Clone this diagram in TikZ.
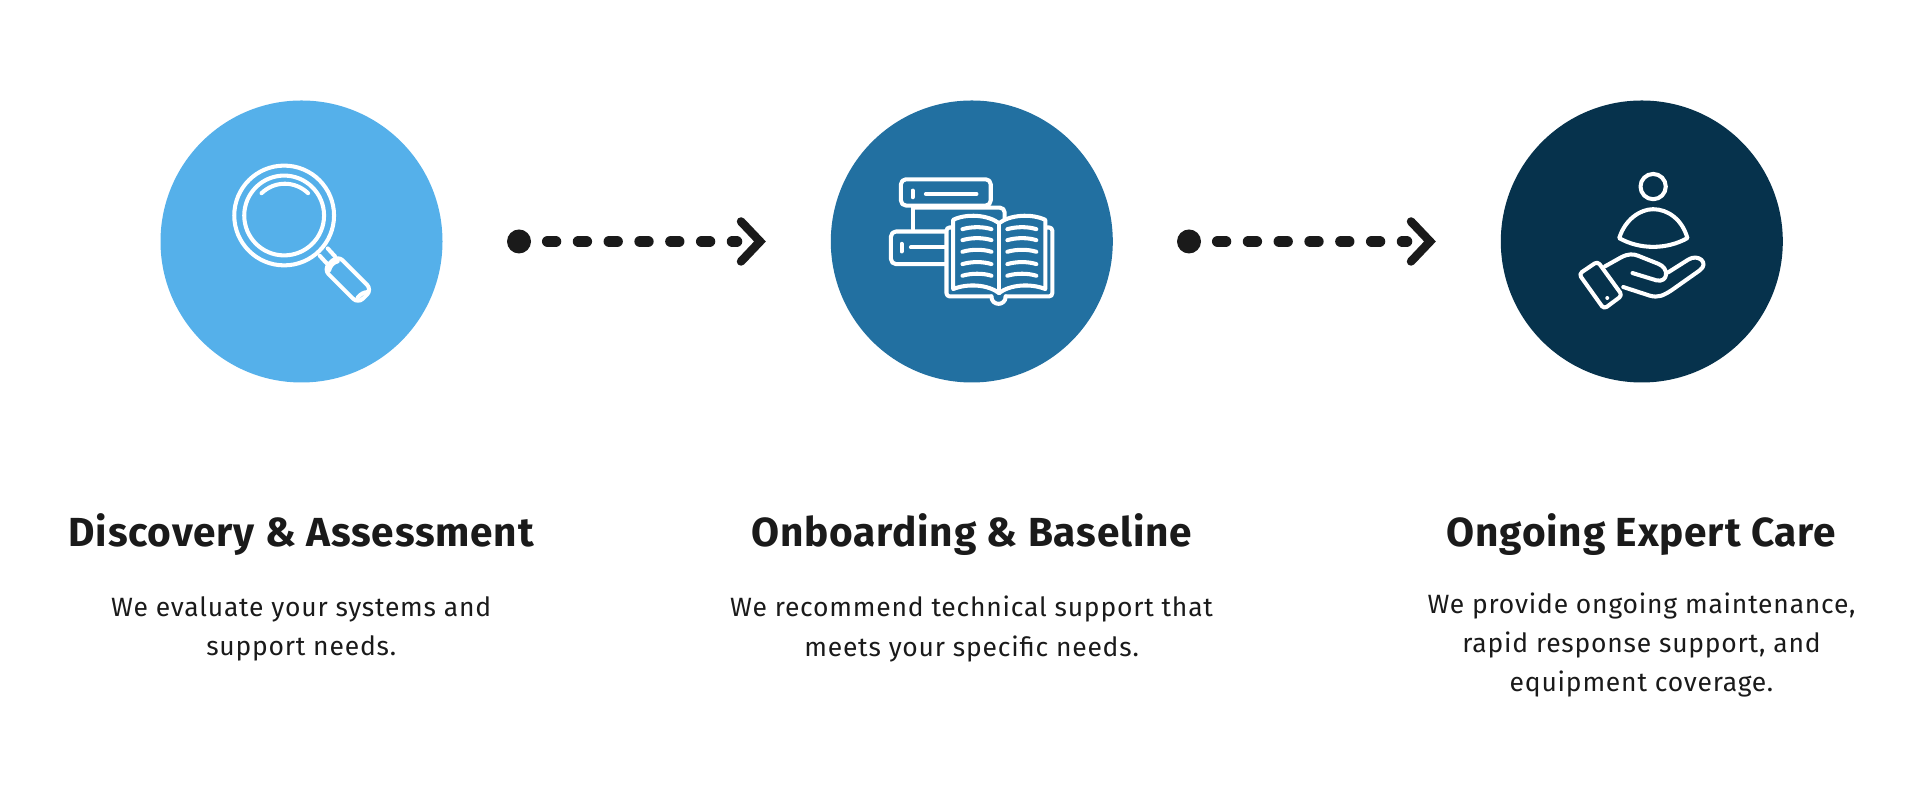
\documentclass[tikz,border=0pt]{standalone}
\usepackage{fontspec}
\setmainfont[LetterSpace=3.0]{Fira Sans}
\newfontfamily\titlefont[LetterSpace=2.0]{Fira Sans}
\definecolor{myLight}{HTML}{55B0EA}
\definecolor{myMid}{HTML}{2270A1}
\definecolor{myDark}{HTML}{06324C}
\definecolor{myInk}{HTML}{1A1A1A}
\tikzset{
  stepcircle/.style={circle, minimum size=2.82cm, inner sep=0pt},
  icon/.style={draw=white, line width=1.15pt, line cap=round, line join=round},
  icongrid/.style={x=0.0033333cm, y=-0.0033333cm},
  startdot/.style={circle, fill=myInk, minimum size=0.24cm, inner sep=0pt},
  dashline/.style={myInk, line width=0.115cm, line cap=round, dash pattern=on 0.078cm off 0.23cm, shorten <=0.16cm, shorten >=0.235cm},
  chevron/.style={myInk, line width=0.085cm, line cap=round, line join=miter},
  steptitle/.style={text=myInk, font=\titlefont\fontsize{11.55pt}{13pt}\selectfont\bfseries},
  steptext/.style={text=myInk, align=center, font=\fontsize{7.53pt}{11.1pt}\selectfont},
}

\begin{document}
\begin{tikzpicture}
\useasboundingbox (0,0) rectangle (19.2,8);

% circles
\node[stepcircle, fill=myLight] (discovery) at (3.015,5.585) {};
\node[stepcircle, fill=myMid] (onboarding) at (9.718,5.585) {};
\node[stepcircle, fill=myDark] (care) at (16.418,5.585) {};

% first arrow
\node[startdot] (dotA) at (5.19,5.585) {};
\coordinate (tipA) at (7.60,5.585);
\draw[dashline] (dotA) -- (tipA);
\draw[chevron] ([shift={(-0.19,0.2)}]tipA) -- (tipA) -- ([shift={(-0.19,-0.2)}]tipA);

% second arrow
\node[startdot] (dotB) at (11.89,5.585) {};
\coordinate (tipB) at (14.30,5.585);
\draw[dashline] (dotB) -- (tipB);
\draw[chevron] ([shift={(-0.19,0.2)}]tipB) -- (tipB) -- ([shift={(-0.19,-0.2)}]tipB);

% magnifier
\begin{scope}[shift={(2,6.6)}, icongrid]
\draw[icon] (253,227) circle (150);
\draw[icon] (253,227) circle (120);
\draw[icon] (185,160) .. controls (225,122) and (285,122) .. (325,160);
\draw[icon] (360,348) -- (382,372);
\draw[icon] (384,326) -- (406,350);
\draw[icon, rounded corners=0.07cm] (414,347) -- (517,450) -- (475,492) -- (372,389) -- cycle;
\draw[icon] (388,392) .. controls (392,378) and (400,368) .. (414,365);
\draw[icon] (474,474) .. controls (484,462) and (492,458) .. (505,457);
\end{scope}

% books and open book
\begin{scope}[shift={(8.7,6.4)}, icongrid]
\draw[icon, rounded corners=0.05cm] (93,58) rectangle (363,137);
\draw[icon] (128,92) -- (128,112);
\draw[icon] (168,102) -- (320,102);
\draw[icon] (130,143) -- (130,208);
\draw[icon, rounded corners=0.05cm] (130,143) -- (405,143) -- (405,178);
\draw[icon, rounded corners=0.05cm] (225,215) -- (63,215) -- (63,313) -- (225,313);
\draw[icon] (95,252) -- (95,275);
\draw[icon] (123,263) -- (225,263);
\draw[icon, rounded corners=0.03cm] (245,203) -- (230,203) -- (230,410) -- (365,410);
\draw[icon, rounded corners=0.03cm] (530,203) -- (548,203) -- (548,410) -- (408,410);
\draw[icon] (365,410) .. controls (365,440) and (408,440) .. (408,410);
\draw[icon] (388,190) .. controls (355,165) and (290,160) .. (250,180) -- (250,388) .. controls (295,370) and (355,375) .. (388,400);
\draw[icon] (388,190) .. controls (420,165) and (485,160) .. (527,180) -- (527,388) .. controls (482,370) and (420,375) .. (388,400);
\draw[icon] (388,190) -- (388,400);
\draw[icon] (278,208) .. controls (305,200) and (340,200) .. (365,208);
\draw[icon] (278,241) .. controls (305,233) and (340,233) .. (365,241);
\draw[icon] (278,276) .. controls (305,268) and (340,268) .. (365,276);
\draw[icon] (278,313) .. controls (305,305) and (340,305) .. (365,313);
\draw[icon] (278,348) .. controls (305,340) and (340,340) .. (365,348);
\draw[icon] (413,208) .. controls (440,200) and (475,200) .. (500,208);
\draw[icon] (413,241) .. controls (440,233) and (475,233) .. (500,241);
\draw[icon] (413,276) .. controls (440,268) and (475,268) .. (500,276);
\draw[icon] (413,313) .. controls (440,305) and (475,305) .. (500,313);
\draw[icon] (413,348) .. controls (440,340) and (475,340) .. (500,348);
\end{scope}

% person in hand
\begin{scope}[shift={(15.6,6.5)}, icongrid]
\draw[icon] (280,110) circle (38);
\draw[icon] (178,265) .. controls (195,210) and (240,178) .. (280,178) .. controls (325,178) and (368,210) .. (383,265) .. controls (320,300) and (240,300) .. (178,265) -- cycle;
\draw[icon, rounded corners=0.035cm] (57,373) -- (113,335) -- (187,437) -- (132,478) -- cycle;
\fill[white] (142,445) circle (6);
\draw[icon] (135,350) -- (185,322) .. controls (205,312) and (220,312) .. (235,318) -- (295,342) .. controls (330,355) and (325,400) .. (290,392) -- (218,370);
\draw[icon] (190,412) -- (270,438) .. controls (295,445) and (310,438) .. (335,422) -- (420,362) .. controls (450,340) and (415,310) .. (385,330) -- (325,368);
\end{scope}

% titles
\node[steptitle] (titleA) at (3.012,2.655) {Discovery \& Assessment};
\node[steptitle] (titleB) at (9.716,2.655) {Onboarding \& Baseline};
\node[steptitle] (titleC) at (16.415,2.655) {Ongoing Expert Care};

% descriptions
\node[steptext] (textA) at (3.012,1.71) {We evaluate your systems and\\support needs.};
\node[steptext] (textB) at (9.716,1.71) {We recommend technical support that\\meets your specific needs.};
\node[steptext] (textC) at (16.415,1.55) {We provide ongoing maintenance,\\rapid response support, and\\equipment coverage.};
\end{tikzpicture}
\end{document}
